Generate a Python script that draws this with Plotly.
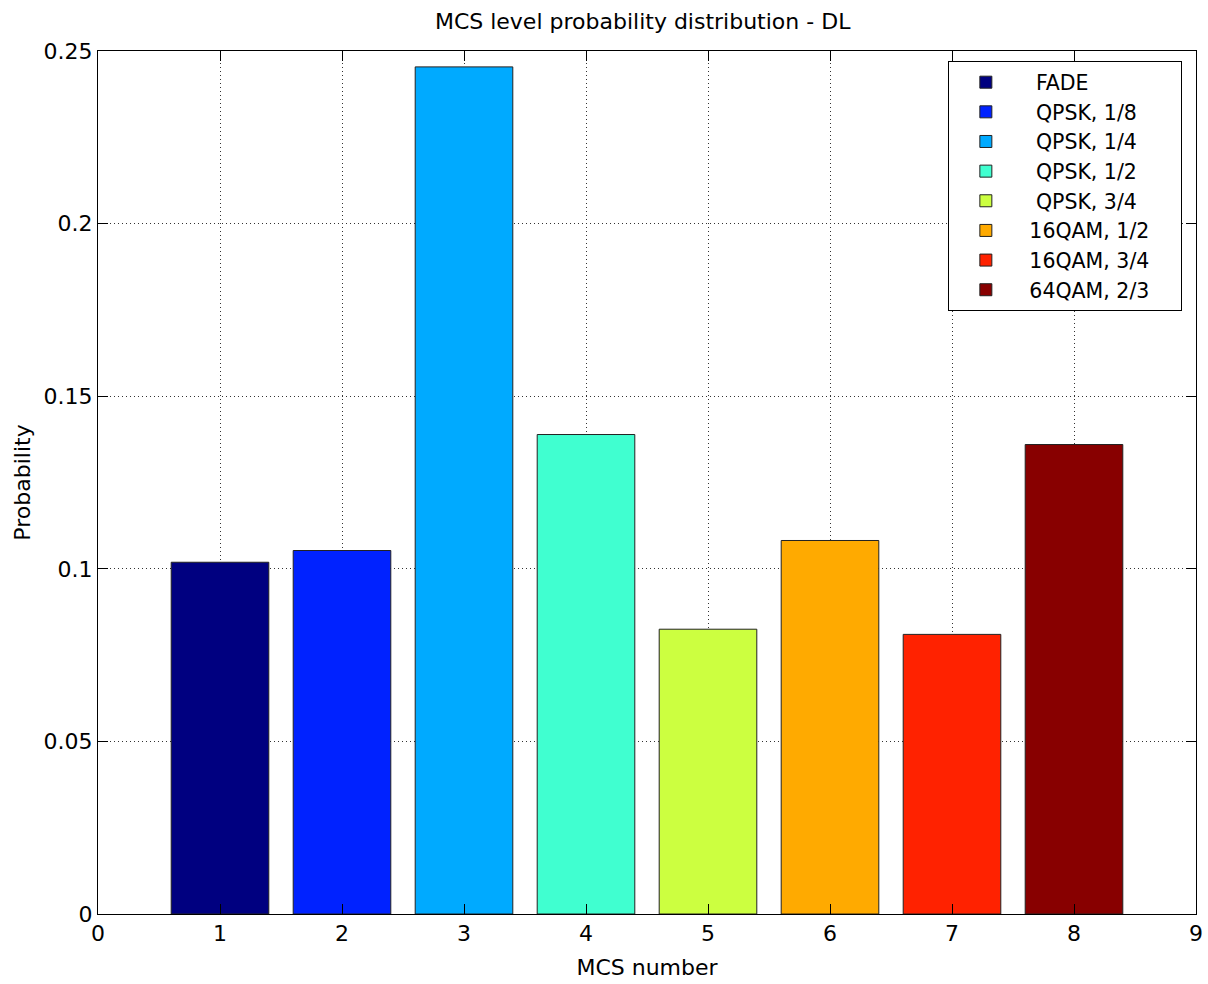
import plotly.graph_objects as go

mcs_numbers = [1, 2, 3, 4, 5, 6, 7, 8]
labels = ["FADE", "QPSK, 1/8", "QPSK, 1/4", "QPSK, 1/2", "QPSK, 3/4",
          "16QAM, 1/2", "16QAM, 3/4", "64QAM, 2/3"]
probabilities = [0.1019, 0.1053, 0.2454, 0.1389, 0.0825, 0.1082, 0.0810, 0.1360]
colors = ["#000080", "#0022FF", "#00AAFF", "#40FFD0", "#CCFF40",
          "#FFAA00", "#FF2200", "#880000"]
legend_pad = ["\u00a0\u00a0", "\u00a0\u00a0", "\u00a0\u00a0",
              "\u00a0\u00a0", "\u00a0\u00a0", "\u00a0", "\u00a0", "\u00a0"]

fig = go.Figure()
for x, lab, p, c, pad in zip(mcs_numbers, labels, probabilities, colors, legend_pad):
    fig.add_trace(go.Bar(
        x=[x], y=[p], name=pad + lab + "\u00a0\u00a0\u00a0\u00a0", width=0.8,
        marker=dict(color=c, line=dict(color="#222222", width=1)),
    ))

font = "DejaVu Sans, Arial, sans-serif"
axis_common = dict(
    showline=True, linecolor="black", linewidth=1, mirror="ticks",
    ticks="inside", ticklen=10, tickcolor="black",
    showgrid=True, gridcolor="#333333", griddash="1px,3px", gridwidth=1,
    zeroline=False, tickfont=dict(family=font, size=22, color="black"),
)

fig.update_layout(
    width=1208, height=984,
    paper_bgcolor="white", plot_bgcolor="white",
    margin=dict(l=98, r=12, t=51, b=70),
    barmode="overlay",
    title=dict(text="MCS level probability distribution - DL", x=0.532, xanchor="center",
               y=0.978, yanchor="middle", font=dict(family=font, size=22, color="black")),
    xaxis=dict(range=[0, 9], tickmode="linear", tick0=0, dtick=1, automargin=False,
               title=dict(text="MCS number", standoff=14, font=dict(family=font, size=22, color="black")),
               **axis_common),
    yaxis=dict(range=[0, 0.25], tickmode="linear", tick0=0, dtick=0.05,
               tickformat="~g",
               title=dict(text="Probability", standoff=6, font=dict(family=font, size=22, color="black")),
               **axis_common),
    legend=dict(x=0.774, y=0.988, xanchor="left", yanchor="top",
                bgcolor="white", bordercolor="black", borderwidth=1,
                font=dict(family=font, size=20.5, color="black"),
                itemwidth=64, tracegroupgap=0, traceorder="normal"),
    showlegend=True,
)

fig.write_html("out.html", config={"displayModeBar": False},
               post_script="document.body.style.margin='0';")
